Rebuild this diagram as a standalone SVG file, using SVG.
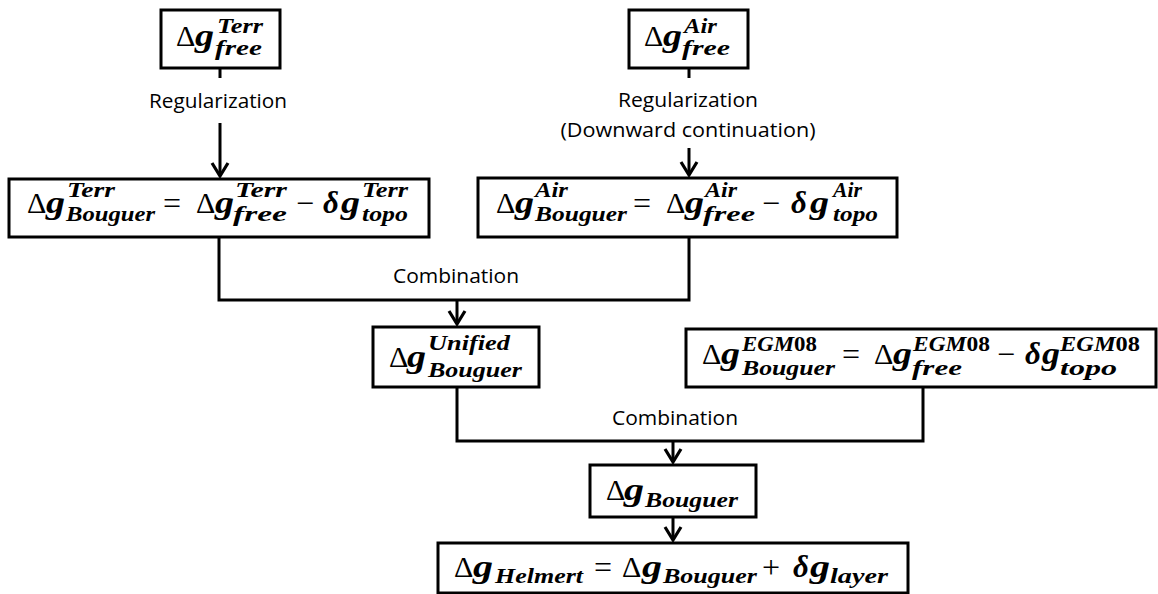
<svg xmlns="http://www.w3.org/2000/svg" width="1158" height="594" viewBox="0 0 1158 594">
<style>
.box { fill: #fff; stroke: #000; stroke-width: 3; }
.ln { fill: none; stroke: #000; stroke-width: 3; }
.d { font-family: "Liberation Serif", serif; font-size: 30px; fill: #000; }
.op { font-family: "Liberation Serif", serif; font-size: 32px; fill: #000; text-anchor: middle; }
.g { font-family: "Liberation Serif", serif; font-size: 31px; font-weight: bold; font-style: italic; fill: #000; }
.s { font-family: "Liberation Serif", serif; font-size: 21px; font-weight: bold; font-style: italic; fill: #000; }
.up { font-style: normal; }
.lbl { font-family: "Open Sans", "Liberation Sans", sans-serif; font-size: 20px; fill: #000; text-anchor: middle; }
</style>
<defs>
<marker id="arr" viewBox="-16 -11 19 22" markerWidth="19" markerHeight="22" refX="0" refY="0" markerUnits="userSpaceOnUse" orient="auto">
<path d="M-13,-8 L0,0 L-13,8" fill="none" stroke="#000" stroke-width="3.2"/>
</marker>
</defs>
<rect width="1158" height="594" fill="#fff"/>

<g id="connectors">
<path class="ln" d="M220,68 V78"/>
<path class="ln" d="M220,123 V176" marker-end="url(#arr)"/>
<path class="ln" d="M689,68 V78"/>
<path class="ln" d="M689,148 V175" marker-end="url(#arr)"/>
<path class="ln" d="M219,237 V300 H689 V237"/>
<path class="ln" d="M457,300 V324" marker-end="url(#arr)"/>
<path class="ln" d="M457,387 V441 H923 V387"/>
<path class="ln" d="M673,441 V462" marker-end="url(#arr)"/>
<path class="ln" d="M673,517 V540" marker-end="url(#arr)"/>
<text class="lbl" x="218" y="108" textLength="138" lengthAdjust="spacingAndGlyphs">Regularization</text>
<text class="lbl" x="688" y="107" textLength="140" lengthAdjust="spacingAndGlyphs">Regularization</text>
<text class="lbl" x="688" y="137" textLength="255" lengthAdjust="spacingAndGlyphs">(Downward continuation)</text>
<text class="lbl" x="456" y="283" textLength="126" lengthAdjust="spacingAndGlyphs">Combination</text>
<text class="lbl" x="675" y="425" textLength="126" lengthAdjust="spacingAndGlyphs">Combination</text>
</g>

<g id="terr-free">
<rect class="box" x="161" y="10" width="119" height="58"/>
<text class="d" x="176" y="46">Δ</text>
<text class="g" x="195" y="46" textLength="19" lengthAdjust="spacingAndGlyphs">g</text>
<text class="s" x="217" y="33" textLength="46" lengthAdjust="spacingAndGlyphs">Terr</text>
<text class="s" x="215" y="55" textLength="47" lengthAdjust="spacingAndGlyphs">free</text>
</g>

<g id="air-free">
<rect class="box" x="629" y="10" width="119" height="58"/>
<text class="d" x="644" y="46">Δ</text>
<text class="g" x="663" y="46" textLength="19" lengthAdjust="spacingAndGlyphs">g</text>
<text class="s" x="684" y="33" textLength="33" lengthAdjust="spacingAndGlyphs">Air</text>
<text class="s" x="682" y="55" textLength="48" lengthAdjust="spacingAndGlyphs">free</text>
</g>

<g id="terr-bouguer">
<rect class="box" x="9" y="179" width="420" height="58"/>
<text class="d" x="27" y="213">Δ</text>
<text class="g" x="46" y="213" textLength="19" lengthAdjust="spacingAndGlyphs">g</text>
<text class="s" x="67" y="197" textLength="48" lengthAdjust="spacingAndGlyphs">Terr</text>
<text class="s" x="66" y="221" textLength="89" lengthAdjust="spacingAndGlyphs">Bouguer</text>
<text class="op" x="172" y="214">=</text>
<text class="d" x="196" y="213">Δ</text>
<text class="g" x="215" y="213" textLength="19" lengthAdjust="spacingAndGlyphs">g</text>
<text class="s" x="235" y="197" textLength="52" lengthAdjust="spacingAndGlyphs">Terr</text>
<text class="s" x="233" y="221" textLength="54" lengthAdjust="spacingAndGlyphs">free</text>
<text class="op" x="305" y="214">−</text>
<text class="g" x="323" y="213">δ</text>
<text class="g" x="341" y="213" textLength="19" lengthAdjust="spacingAndGlyphs">g</text>
<text class="s" x="362" y="197" textLength="46" lengthAdjust="spacingAndGlyphs">Terr</text>
<text class="s" x="362" y="221" textLength="46" lengthAdjust="spacingAndGlyphs">topo</text>
</g>

<g id="air-bouguer">
<rect class="box" x="478" y="178" width="419" height="59"/>
<text class="d" x="496" y="213">Δ</text>
<text class="g" x="515" y="213" textLength="19" lengthAdjust="spacingAndGlyphs">g</text>
<text class="s" x="535" y="197" textLength="33" lengthAdjust="spacingAndGlyphs">Air</text>
<text class="s" x="535" y="221" textLength="92" lengthAdjust="spacingAndGlyphs">Bouguer</text>
<text class="op" x="642" y="214">=</text>
<text class="d" x="666" y="213">Δ</text>
<text class="g" x="685" y="213" textLength="19" lengthAdjust="spacingAndGlyphs">g</text>
<text class="s" x="705" y="197" textLength="32" lengthAdjust="spacingAndGlyphs">Air</text>
<text class="s" x="703" y="221" textLength="52" lengthAdjust="spacingAndGlyphs">free</text>
<text class="op" x="771" y="214">−</text>
<text class="g" x="791" y="213">δ</text>
<text class="g" x="810" y="213" textLength="19" lengthAdjust="spacingAndGlyphs">g</text>
<text class="s" x="833" y="197" textLength="29" lengthAdjust="spacingAndGlyphs">Air</text>
<text class="s" x="833" y="221" textLength="45" lengthAdjust="spacingAndGlyphs">topo</text>
</g>

<g id="unified-bouguer">
<rect class="box" x="373" y="327" width="166" height="60"/>
<text class="d" x="389" y="367">Δ</text>
<text class="g" x="407" y="367" textLength="19" lengthAdjust="spacingAndGlyphs">g</text>
<text class="s" x="428" y="350" textLength="82" lengthAdjust="spacingAndGlyphs">Unified</text>
<text class="s" x="428" y="377" textLength="94" lengthAdjust="spacingAndGlyphs">Bouguer</text>
</g>

<g id="egm08-bouguer">
<rect class="box" x="686" y="329" width="470" height="58"/>
<text class="d" x="702" y="364">Δ</text>
<text class="g" x="721" y="364" textLength="19" lengthAdjust="spacingAndGlyphs">g</text>
<text class="s" x="742" y="351" textLength="75" lengthAdjust="spacingAndGlyphs">EGM<tspan class="up">08</tspan></text>
<text class="s" x="742" y="375" textLength="93" lengthAdjust="spacingAndGlyphs">Bouguer</text>
<text class="op" x="851" y="365">=</text>
<text class="d" x="874" y="364">Δ</text>
<text class="g" x="893" y="364" textLength="19" lengthAdjust="spacingAndGlyphs">g</text>
<text class="s" x="913" y="351" textLength="77" lengthAdjust="spacingAndGlyphs">EGM<tspan class="up">08</tspan></text>
<text class="s" x="912" y="375" textLength="50" lengthAdjust="spacingAndGlyphs">free</text>
<text class="op" x="1006" y="365">−</text>
<text class="g" x="1025" y="364">δ</text>
<text class="g" x="1042" y="364" textLength="18" lengthAdjust="spacingAndGlyphs">g</text>
<text class="s" x="1060" y="351" textLength="80" lengthAdjust="spacingAndGlyphs">EGM<tspan class="up">08</tspan></text>
<text class="s" x="1060" y="375" textLength="57" lengthAdjust="spacingAndGlyphs">topo</text>
</g>

<g id="bouguer">
<rect class="box" x="590" y="465" width="166" height="52"/>
<text class="d" x="606" y="500">Δ</text>
<text class="g" x="624" y="500" textLength="20" lengthAdjust="spacingAndGlyphs">g</text>
<text class="s" x="645" y="507" textLength="93" lengthAdjust="spacingAndGlyphs">Bouguer</text>
</g>

<g id="helmert">
<rect class="box" x="438" y="543" width="470" height="50"/>
<text class="d" x="454" y="577">Δ</text>
<text class="g" x="473" y="577" textLength="20" lengthAdjust="spacingAndGlyphs">g</text>
<text class="s" x="495" y="583" textLength="88" lengthAdjust="spacingAndGlyphs">Helmert</text>
<text class="op" x="603" y="578">=</text>
<text class="d" x="622" y="577">Δ</text>
<text class="g" x="642" y="577" textLength="20" lengthAdjust="spacingAndGlyphs">g</text>
<text class="s" x="663" y="583" textLength="94" lengthAdjust="spacingAndGlyphs">Bouguer</text>
<text class="op" x="771" y="578">+</text>
<text class="g" x="793" y="577">δ</text>
<text class="g" x="810" y="577" textLength="20" lengthAdjust="spacingAndGlyphs">g</text>
<text class="s" x="830" y="583" textLength="58" lengthAdjust="spacingAndGlyphs">layer</text>
</g>
</svg>
